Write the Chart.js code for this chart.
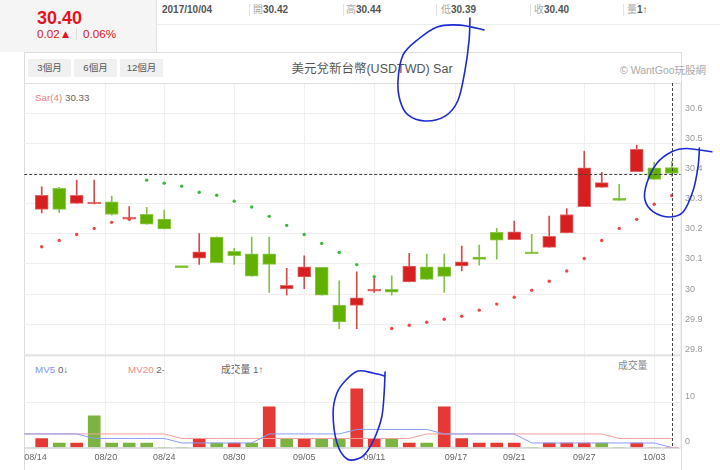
<!DOCTYPE html>
<html>
<head>
<meta charset="utf-8">
<script src="https://cdn.jsdelivr.net/npm/chart.js@4.4.0/dist/chart.umd.min.js"></script>
<style>
  body { margin: 0; width: 720px; height: 470px; overflow: hidden; background: #fff; position: relative;
         font-family: Arial, "Liberation Sans", "Noto Sans CJK TC", sans-serif; }
  .abs { position: absolute; white-space: nowrap; }
  #quote { left: 0; top: 0; width: 156px; height: 52px; background: #f5f5f5; border-right: 1px solid #e2e2e2; }
  #rowline { left: 157px; top: 24px; width: 563px; height: 1px; background: #eee; }
  .hd { top: 4px; font-size: 10px; line-height: 12px; color: #555; font-weight: bold; }
  .hd i { font-style: normal; font-weight: normal; color: #aaa; }
  .sep { top: 4px; width: 1px; height: 12px; background: #e3e3e3; }
  #box { left: 24px; top: 52px; width: 656px; height: 418px; border: 1px solid #ddd; border-bottom: none; }
  .btn { top: 59px; height: 18px; line-height: 18px; background: #f0f0f0; color: #555; font-size: 9.5px; text-align: center; }
  .lg { font-size: 9.8px; line-height: 12px; color: #666; }
  canvas { position: absolute; left: 0; top: 0; z-index: 2; pointer-events: none; }
</style>
</head>
<body>
<div class="abs" id="quote"></div>
<div class="abs" style="left:37px;top:8px;font-weight:bold;font-size:18px;line-height:20px;color:#e3141e">30.40</div>
<div class="abs" style="left:37px;top:27px;font-size:11.7px;line-height:14px;color:#e3141e">0.02▲</div>
<div class="abs" style="left:76px;top:28px;width:1px;height:12px;background:#ddd"></div>
<div class="abs" style="left:83px;top:27px;font-size:11.7px;line-height:14px;color:#e3141e">0.06%</div>

<div class="abs" id="rowline"></div>
<div class="abs hd" style="left:162px">2017/10/04</div>
<div class="abs sep" style="left:249px"></div>
<div class="abs hd" style="left:253px"><i>開</i>30.42</div>
<div class="abs sep" style="left:343px"></div>
<div class="abs hd" style="left:346px"><i>高</i>30.44</div>
<div class="abs sep" style="left:436px"></div>
<div class="abs hd" style="left:441px"><i>低</i>30.39</div>
<div class="abs sep" style="left:530px"></div>
<div class="abs hd" style="left:534px"><i>收</i>30.40</div>
<div class="abs sep" style="left:623px"></div>
<div class="abs hd" style="left:627px"><i>量</i>1↑</div>

<div class="abs" id="box"></div>
<div class="abs btn" style="left:28px;width:43px">3個月</div>
<div class="abs btn" style="left:74px;width:43px">6個月</div>
<div class="abs btn" style="left:120px;width:43px">12個月</div>
<div class="abs" style="left:372px;top:62px;transform:translateX(-50%);font-size:12.5px;line-height:14px;color:#555">美元兌新台幣(USDTWD) Sar</div>
<div class="abs" style="left:620px;top:63px;font-size:10.5px;line-height:14px;color:#aaa">© WantGoo玩股網</div>

<div class="abs lg" style="left:35px;top:92px"><span style="color:#f08080">Sar(4)</span> 30.33</div>
<div class="abs lg" style="left:35px;top:364px"><span style="color:#8294f5">MV5</span> 0↓</div>
<div class="abs lg" style="left:128px;top:364px"><span style="color:#f38a8a">MV20</span> 2-</div>
<div class="abs lg" style="left:221px;top:364px">成交量 1↑</div>
<div class="abs lg" style="left:618px;top:360px;color:#888">成交量</div>

<canvas id="chart" width="720" height="470"></canvas>

<script>
'use strict';

// sessions shown (2017), one candle each
const dates = ['08/15','08/16','08/17','08/18','08/21','08/22','08/23','08/24','08/25','08/28',
  '08/29','08/30','08/31','09/01','09/04','09/05','09/06','09/07','09/08','09/11',
  '09/12','09/13','09/14','09/15','09/18','09/19','09/20','09/21','09/22','09/25',
  '09/26','09/27','09/28','09/29','10/02','10/03','10/04'];
const opens = [30.281,30.351,30.301,30.299,30.306,30.249,30.265,30.249,30.089,30.119,
  30.189,30.142,30.134,30.134,30.017,30.057,30.089,29.964,29.963,30.010,
  30.016,30.041,30.091,30.091,30.094,30.123,30.205,30.181,30.136,30.155,
  30.203,30.290,30.354,30.312,30.406,30.419,30.42];
const highs = [30.356,30.354,30.378,30.378,30.325,30.290,30.288,30.279,30.089,30.201,
  30.190,30.152,30.189,30.189,30.086,30.127,30.089,30.044,30.074,30.057,
  30.061,30.135,30.133,30.133,30.159,30.163,30.218,30.242,30.198,30.259,
  30.284,30.474,30.404,30.364,30.494,30.437,30.44];
const lows = [30.269,30.270,30.301,30.299,30.262,30.245,30.232,30.216,30.088,30.099,
  30.104,30.099,30.060,30.006,29.997,30.018,29.997,29.886,29.886,30.006,
  29.997,30.041,30.049,30.006,30.077,30.096,30.116,30.181,30.134,30.155,
  30.203,30.290,30.354,30.311,30.406,30.380,30.39];
const closes = [30.328,30.281,30.328,30.304,30.264,30.254,30.232,30.216,30.088,30.140,
  30.104,30.128,30.060,30.099,30.029,30.091,29.997,29.908,29.988,30.016,
  30.007,30.093,30.049,30.059,30.107,30.115,30.179,30.207,30.134,30.192,
  30.264,30.419,30.370,30.311,30.480,30.380,30.40];
const sar = [30.157,30.178,30.198,30.218,30.238,30.248,30.378,30.368,30.358,30.338,
  30.328,30.308,30.289,30.258,30.228,30.198,30.168,30.138,30.098,30.058,
  29.886,29.897,29.907,29.917,29.927,29.947,29.967,29.990,30.013,30.043,
  30.077,30.118,30.178,30.218,30.248,30.298,30.327];
const volumes = [2,1,1,7,1,1,1,0,0,2, 1,1,1,9,2,2,2,2,13,2, 2,1,1,9,2,1,1,1,0,1, 1,1,1,0,1,0,0];
// moving averages of volume; first value belongs to 08/14, the session before the first candle
const mv5 = [3, 3,3,3,2,2,2,2,2,1,1, 1,1,1,3,3,3,3,3,4,4, 4,4,4,3,3,3,3,3,1,1, 1,1,1,1,1,1,0];
const mv20 = [3, 3,3,3,3,3,3,3,3,2,2, 2,2,2,2,2,2,2,2,2,2, 2,2,3,3,3,3,3,3,3,3, 3,3,3,2,2,2,2];
const tickLabels = ['08/14','08/20','08/24','08/30','09/05','09/11','09/17','09/21','09/27','10/03'];
const priceTicks = [29.8,29.9,30.0,30.1,30.2,30.3,30.4,30.5,30.6];
const volumeTicks = [0, 10];

// hand-drawn blue marks on the reference, in (slot, value) units
const inkTitle = [[26.27,30.876],[24.9,30.892],[23.59,30.886],[22.45,30.842],[21.65,30.793],[21.36,30.71],
  [21.47,30.643],[21.93,30.594],[22.9,30.574],[24.05,30.59],[24.79,30.643],[25.19,30.743],[25.42,30.842],[25.47,30.915]];
const inkLast = [[39.29,30.472],[37.86,30.483],[37.0,30.472],[36.14,30.433],[35.57,30.367],[35.47,30.312],
  [35.95,30.273],[36.9,30.256],[37.66,30.273],[38.23,30.345],[38.5,30.422],[38.58,30.484]];
const inkVolume = [[20.62,16.7],[20.56,11.6],[20.43,6.75],[20.05,2.32],[19.65,-0.55],[19.19,-2.32],[18.45,-2.54],
  [17.87,1.0],[17.65,7.63],[17.87,12.06],[18.39,14.93],[19.07,16.92],[19.93,16.48],[20.62,15.82]];

const RED = '#d71f1f', GREEN = '#62b000';
const VRED = '#e53935', VGREEN = '#7cb342';

// ordinal axis: candle i sits on slot i + 1, calendar days in between are interpolated
const dayOf = s => { const [m, d] = s.split('/').map(Number); return Date.UTC(2017, m - 1, d) / 864e5; };
const days = dates.map(dayOf);
function slotOf(label) {
  const t = dayOf(label);
  if (t <= days[0]) return 1 - (days[0] - t);
  for (let i = 0; i < days.length - 1; i++) {
    if (t <= days[i + 1]) return i + 1 + (t - days[i]) / (days[i + 1] - days[i]);
  }
  return days.length;
}
const X_MAX = 37.5;
const up = i => closes[i] >= opens[i];
const volUp = i => i === 0 || closes[i] >= closes[i - 1];
const tickVal = c => (c && c.tick) ? c.tick.value : NaN;

function smooth(ctx, pts) {
  ctx.beginPath();
  ctx.moveTo(pts[0][0], pts[0][1]);
  for (let i = 0; i < pts.length - 1; i++) {
    const p0 = pts[i - 1] || pts[i], p1 = pts[i], p2 = pts[i + 1], p3 = pts[i + 2] || p2;
    ctx.bezierCurveTo(p1[0] + (p2[0] - p0[0]) / 6, p1[1] + (p2[1] - p0[1]) / 6,
                      p2[0] - (p3[0] - p1[0]) / 6, p2[1] - (p3[1] - p1[1]) / 6, p2[0], p2[1]);
  }
  ctx.stroke();
}

const frame = {
  id: 'frame',
  beforeDatasetsDraw(chart) {
    const {ctx, chartArea: a, scales} = chart;
    ctx.save();
    ctx.strokeStyle = '#dedede';
    ctx.lineWidth = 1;
    ctx.beginPath();
    ctx.moveTo(a.left, a.top + 0.5); ctx.lineTo(a.right, a.top + 0.5);
    ctx.moveTo(a.right + 0.5, a.top); ctx.lineTo(a.right + 0.5, a.bottom);
    ctx.stroke();
    ctx.strokeStyle = '#e4e4e4';
    ctx.lineWidth = 2;
    ctx.beginPath();
    ctx.moveTo(a.left, scales.y.bottom + 1); ctx.lineTo(a.right, scales.y.bottom + 1);
    ctx.stroke();
    ctx.strokeStyle = '#d4d4d4';
    ctx.lineWidth = 1.5;
    ctx.beginPath();
    ctx.moveTo(a.left, a.bottom + 0.5); ctx.lineTo(a.right, a.bottom + 0.5);
    ctx.stroke();
    ctx.restore();
  },
  afterDatasetsDraw(chart) {
    const {ctx, chartArea: a, scales} = chart;
    const last = closes.length - 1;
    const py = Math.round(scales.y.getPixelForValue(closes[last])) + 0.5;
    const px = Math.round(scales.x.getPixelForValue(last + 1)) + 0.5;
    ctx.save();
    ctx.strokeStyle = '#444';
    ctx.lineWidth = 1;
    ctx.setLineDash([3, 2]);
    ctx.beginPath();
    ctx.moveTo(a.left, py); ctx.lineTo(a.right, py);
    ctx.moveTo(px, a.top); ctx.lineTo(px, a.bottom);
    ctx.stroke();
    ctx.restore();
  },
  afterDraw(chart) {
    const {ctx, scales: {x, y, yv}} = chart;
    const toPx = (pts, s) => pts.map(([sx, v]) => [x.getPixelForValue(sx), s.getPixelForValue(v)]);
    ctx.save();
    ctx.strokeStyle = '#1d2bd6';
    ctx.lineWidth = 1.6;
    ctx.lineCap = 'round';
    smooth(ctx, toPx(inkTitle, y));
    smooth(ctx, toPx(inkLast, y));
    smooth(ctx, toPx(inkVolume, yv));
    ctx.restore();
  }
};

Chart.defaults.font.family = 'Arial, "Liberation Sans", sans-serif';

new Chart(document.getElementById('chart'), {
  type: 'bar',
  data: {
    datasets: [
      {
        type: 'line', label: 'Sar(4)', yAxisID: 'y', order: 0, showLine: false,
        data: sar.map((v, i) => ({x: i + 1, y: v})),
        pointRadius: 1.7, pointBorderWidth: 0,
        pointBackgroundColor: sar.map((v, i) => v < closes[i] ? '#f04545' : '#3db83d')
      },
      {
        label: 'body', yAxisID: 'y', order: 1, grouped: false,
        data: dates.map((d, i) => ({x: i + 1, y: [opens[i], closes[i]]})),
        backgroundColor: dates.map((d, i) => up(i) ? RED : GREEN),
        borderColor: dates.map((d, i) => up(i) ? '#e26a6a' : '#8fc84a'),
        borderWidth: 1, borderSkipped: false, barThickness: 13, minBarLength: 2
      },
      {
        label: 'wick', yAxisID: 'y', order: 2, grouped: false,
        data: dates.map((d, i) => ({x: i + 1, y: [lows[i], highs[i]]})),
        backgroundColor: dates.map((d, i) => up(i) ? '#d84a4a' : '#86c248'),
        barThickness: 1
      },
      {
        type: 'line', label: 'MV5', yAxisID: 'yv', order: 0,
        data: mv5.map((v, i) => ({x: i, y: v})),
        borderColor: '#8a9cf5', borderWidth: 1, pointRadius: 0, tension: 0
      },
      {
        type: 'line', label: 'MV20', yAxisID: 'yv', order: 0,
        data: mv20.map((v, i) => ({x: i, y: v})),
        borderColor: '#f5a0a0', borderWidth: 1, pointRadius: 0, tension: 0
      },
      {
        label: '成交量', yAxisID: 'yv', order: 3, grouped: false,
        data: volumes.map((v, i) => ({x: i + 1, y: v})),
        backgroundColor: volumes.map((v, i) => volUp(i) ? VRED : VGREEN),
        barThickness: 12
      }
    ]
  },
  options: {
    responsive: false,
    animation: false,
    events: [],
    layout: {padding: {left: 24.2, top: 83, right: 0, bottom: 0}},
    plugins: {legend: {display: false}, tooltip: {enabled: false}},
    scales: {
      x: {
        type: 'linear', min: 0, max: X_MAX, offset: false,
        afterBuildTicks: s => { s.ticks = tickLabels.map(l => ({value: slotOf(l)})).concat([{value: X_MAX}]); },
        afterFit: s => { s.height = 22.5; },
        border: {display: false, color: 'transparent'},
        grid: {offset: false, drawTicks: false, color: c => (tickVal(c) > 0 && tickVal(c) < X_MAX) ? '#efefef' : 'transparent'},
        ticks: {align: 'inner', padding: 5, maxRotation: 0, autoSkip: false, color: '#666', font: {size: 9},
                callback: (v, i) => tickLabels[i] ?? ''}
      },
      y: {
        position: 'right', stack: 'panes', stackWeight: 271.5,
        min: 29.8, max: 30.7,
        afterBuildTicks: s => { s.ticks = priceTicks.map(v => ({value: v})); },
        afterFit: s => { s.width = 39.5; },
        border: {display: false, color: 'transparent'},
        grid: {drawTicks: false, color: '#efefef'},
        ticks: {padding: 4.5, labelOffset: -5, color: '#9a9a9a', font: {size: 9},
                callback: v => String(+Number(v).toFixed(1))}
      },
      yv: {
        position: 'right', stack: 'panes', stackWeight: 93,
        min: 0, max: 20.58,
        afterBuildTicks: s => { s.ticks = volumeTicks.map(v => ({value: v})); },
        afterFit: s => { s.width = 39.5; },
        border: {display: false, color: 'transparent'},
        grid: {drawTicks: false, color: c => tickVal(c) > 0 ? '#efefef' : 'transparent'},
        ticks: {padding: 4.5, labelOffset: -6, color: '#9a9a9a', font: {size: 9}}
      }
    }
  },
  plugins: [frame]
});
</script>
</body>
</html>
